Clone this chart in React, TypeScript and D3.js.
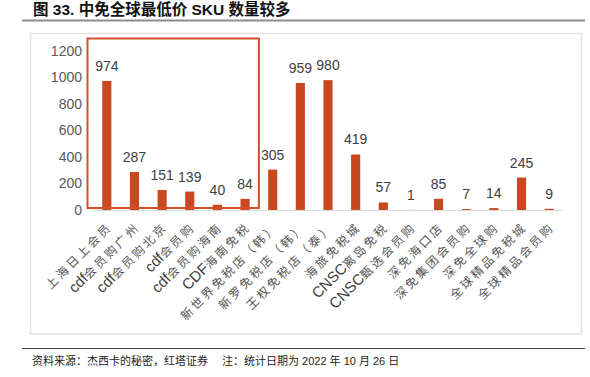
import React from "react";
import * as d3 from "d3";

const categories = [
  "上海日上会员",
  "cdf会员购广州",
  "cdf会员购北京",
  "cdf会员购",
  "cdf会员购海南",
  "CDF海南免税",
  "新世界免税店（韩）",
  "新罗免税店（韩）",
  "王权免税店（泰）",
  "海旅免税城",
  "CNSC离岛免税",
  "CNSC甄选会员购",
  "深免海口店",
  "深免集团会员购",
  "深免全球购",
  "全球精品免税城",
  "全球精品会员购",
];
const values = [974, 287, 151, 139, 40, 84, 305, 959, 980, 419, 57, 1, 85, 7, 14, 245, 9];
const yTicks = [0, 200, 400, 600, 800, 1000, 1200];

const title = "图 33. 中免全球最低价 SKU 数量较多";
const source = "资料来源：杰西卡的秘密，红塔证券";
const note = "注：统计日期为 2022 年 10 月 26 日";

const FONT = "'Liberation Sans', 'Noto Sans CJK SC', sans-serif";
const BAR = "#C9481F";

function splitRuns(s: string) {
  const runs: { t: string; latin: boolean }[] = [];
  for (const ch of s) {
    const latin = /[A-Za-z0-9]/.test(ch);
    const last = runs[runs.length - 1];
    if (last && last.latin === latin) last.t += ch;
    else runs.push({ t: ch, latin });
  }
  return runs;
}

export default function App() {
  const W = 590, H = 377;
  const x = d3.scaleBand<string>().domain(categories).range([93, 563]).paddingInner(0.67).paddingOuter(0.335);
  const y = d3.scaleLinear().domain([0, 1200]).range([210, 51]);
  const step = x.step();
  const bx = (c: string) => (x(c) as number);
  const cx = (c: string) => bx(c) + x.bandwidth() / 2;
  const hiLeft = bx(categories[0]) - (step - x.bandwidth()) / 2 - 5.5;
  const hiRight = bx(categories[5]) + x.bandwidth() + (step - x.bandwidth()) / 2;

  return (
    <svg width={W} height={H} style={{ position: "absolute", left: 0, top: 0, fontFamily: FONT }}>
      <rect x={0} y={0} width={W} height={H} fill="#fff" />
      <text x={33} y={15} fontSize={15.5} fontWeight="bold" fill="#111">{title}</text>
      <line x1={22} x2={585} y1={20.5} y2={20.5} stroke="#8c8c8c" strokeWidth={2} />
      <rect x={30.5} y={33.5} width={551} height={300.5} fill="none" stroke="#e3e3e3" strokeWidth={1.5} />

      {yTicks.map((t) => (
        <text key={t} x={82} y={y(t)} dy="0.35em" textAnchor="end" fontSize={14} fill="#595959">{t}</text>
      ))}
      <line x1={93} x2={563} y1={y(0) + 0.5} y2={y(0) + 0.5} stroke="#d9d9d9" strokeWidth={1} />

      {categories.map((c, i) => (
        <g key={c}>
          <rect x={bx(c)} y={y(values[i])} width={x.bandwidth()} height={y(0) - y(values[i])} fill={BAR} />
          <text x={cx(c)} y={y(values[i]) - 10} textAnchor="middle" fontSize={14} fill="#404040">{values[i]}</text>
          <text
            transform={`translate(${cx(c) + 6},${228}) rotate(-45)`}
            textAnchor="end"
            fill="#404040"
          >
            {splitRuns(c).map((r, k) => (
              <tspan
                key={k}
                fontSize={r.latin ? 15 : 12}
                letterSpacing={r.latin ? 0 : 2.6}
                fill={r.latin ? "#3a3a3a" : "#555"}
              >{r.t}</tspan>
            ))}
          </text>
        </g>
      ))}

      <rect x={hiLeft} y={y(1200) - 12.5} width={hiRight - hiLeft} height={y(0) - 2 - (y(1200) - 12.5)} fill="none" stroke="#D0502A" strokeWidth={2} />

      <line x1={22} x2={585} y1={348.5} y2={348.5} stroke="#404040" strokeWidth={1} />
      <text x={32} y={365} fontSize={11} fill="#222">{source}</text>
      <text x={222} y={365} fontSize={11} fill="#222">{note}</text>
    </svg>
  );
}
